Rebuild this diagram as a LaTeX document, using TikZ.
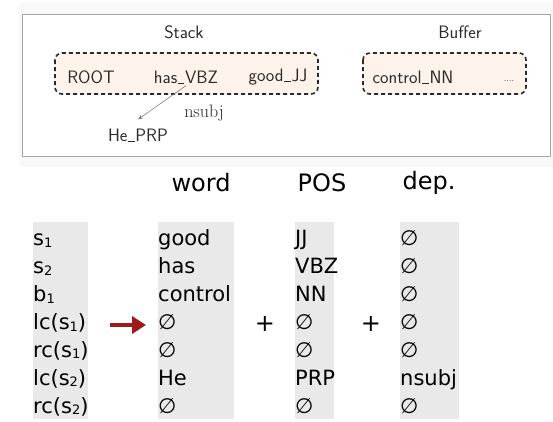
\documentclass[tikz,border=0pt]{standalone}
\usepackage{fontspec}
\usepackage{tikz}
\usetikzlibrary{arrows.meta}

\newfontfamily\dejavu{DejaVu Sans}
\definecolor{peach}{HTML}{FDF3EB}
\definecolor{colgray}{HTML}{E9E9E9}
\definecolor{arrowred}{HTML}{9E1B1B}
\definecolor{inkgray}{HTML}{2A2A2A}
\newcommand\rowfont{\dejavu\fontsize{21}{27.9}\selectfont}
\newcommand\lowidx[1]{\raisebox{-1.5pt}{\fontsize{13}{13}\selectfont #1}}
\newcommand\emptyval{∅}
\newcommand\uscore{\kern0.04em\rule[-0.02em]{0.36em}{0.05em}\kern0.04em}
\newcommand\topstrut{\rule{0pt}{23.6pt}}
\newcommand\botstrut{\rule[-5.6pt]{0pt}{5.6pt}}

\begin{document}
\begin{tikzpicture}[
			x=1pt, y=-1pt,
			panel/.style={draw=gray!70, line width=1pt},
			slot/.style={draw=inkgray, fill=peach, dash pattern=on 4pt off 3pt, line width=1.6pt, rounded corners=7pt},
			tok/.style={font=\sffamily\fontsize{18}{21}\selectfont, text=inkgray, inner sep=0pt},
			deparc/.style={draw=gray, line width=0.6pt, -{Stealth[length=5pt,width=4pt]}},
			featcol/.style={fill=colgray, anchor=north west, inner xsep=0pt, inner ysep=0pt, align=left, font=\rowfont},
			head/.style={font=\dejavu\fontsize{24}{28}\selectfont},
			]
			\useasboundingbox (0,0) rectangle (553,421);
			
			% Configuration panel
			\fill[gray!5] (19,2) rectangle (553,167);
			\draw[panel, fill=white] (22,14) rectangle (550,156);
			\node[tok] (stackLbl) at (184,32) {Stack};
			\node[tok] (bufferLbl) at (460,32) {Buffer};
			
			% Stack and buffer
			\draw[slot] (55,53) rectangle (318,94);
			\draw[slot] (363,53) rectangle (526,94);
			\node[tok] (root) at (91,77) {ROOT};
			\node[tok] (hasVBZ) at (186,77) {has\uscore VBZ};
			\node[tok] (goodJJ) at (278,77) {good\uscore JJ};
			\node[tok] (controlNN) at (413,77) {control\uscore NN};
			\node[tok, font=\sffamily\fontsize{9}{10}\selectfont] (more) at (509,81) {....};
			
			% Arc already built
			\node[tok] (hePRP) at (138,135) {He\uscore PRP};
			\draw[deparc] ([yshift=-2pt]hasVBZ.south) -- ([yshift=9pt]hePRP.north);
			\node[font=\fontsize{18}{20}\selectfont, text=inkgray, inner sep=0pt] (nsubjLbl) at (204,113) {nsubj};
			
			% Feature columns
			\node[head] (hWord) at (201,183) {word};
			\node[head] (hPOS) at (322,183) {POS};
			\node[head] (hDep) at (429,183) {dep.};
			
			\node[featcol, text width=55pt] (colFeat) at (33,222) {\topstrut s\lowidx{1}\\ s\lowidx{2}\\ b\lowidx{1}\\ lc(s\lowidx{1})\\ rc(s\lowidx{1})\\ lc(s\lowidx{2})\\ rc(s\lowidx{2})\botstrut};
			\node[featcol, text width=76pt] (colWord) at (158,222) {\topstrut good\\ has\\ control\\ \emptyval\\ \emptyval\\ He\\ \emptyval\botstrut};
			\node[featcol, text width=39pt] (colPOS) at (295,222) {\topstrut JJ\\ VBZ\\ NN\\ \emptyval\\ \emptyval\\ PRP\\ \emptyval\botstrut};
			\node[featcol, text width=59pt] (colDep) at (400,222) {\topstrut \emptyval\\ \emptyval\\ \emptyval\\ \emptyval\\ \emptyval\\ nsubj\\ \emptyval\botstrut};
			
			% Lookup arrow and concatenation
			\coordinate (arrS) at (110,325);
			\coordinate (arrE) at (146,325);
			\draw[arrowred, line width=4.3pt, -{Triangle[length=14pt,width=17pt]}] (arrS) -- (arrE);
			\node[font=\dejavu\fontsize{24}{24}\selectfont] (plusA) at (265,324) {+};
			\node[font=\dejavu\fontsize{24}{24}\selectfont] (plusB) at (371,324) {+};
			
		\end{tikzpicture}
\end{document}
